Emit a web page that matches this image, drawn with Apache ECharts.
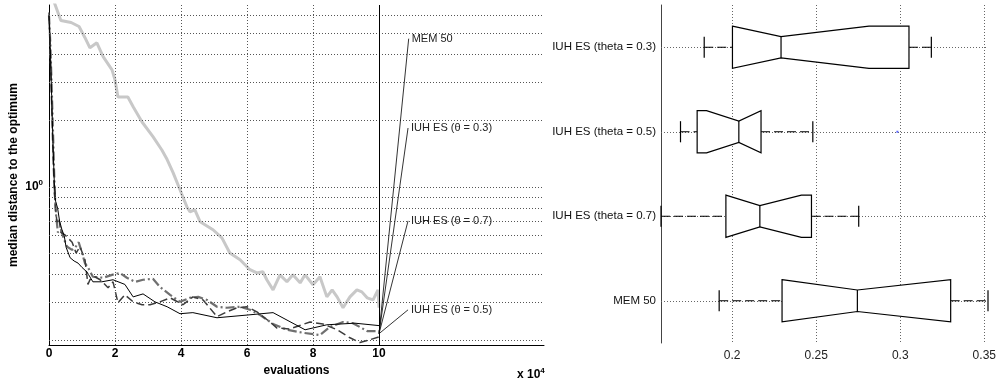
<!DOCTYPE html>
<html><head><meta charset="utf-8">
<script src="https://cdn.jsdelivr.net/npm/echarts@6/dist/echarts.min.js"></script>
<style>html,body{margin:0;padding:0;background:#fff}#c{width:1002px;height:385px}</style>
</head><body><div id="c"></div>
<script>
// ---------- data (left: evaluations x 10^4 vs median distance) ----------
const memX = [0, 0.36, 0.67, 0.91, 1.09, 1.24, 1.45, 1.64, 1.91, 2.0, 2.09, 2.39, 2.55, 2.82, 3.15, 3.42, 3.58, 3.76, 3.97, 4.18, 4.27, 4.42, 4.58, 4.97, 5.24, 5.48, 5.79, 6.09, 6.3, 6.48, 6.6, 6.79, 7.0, 7.21, 7.39, 7.61, 7.76, 8.0, 8.21, 8.42, 8.58, 8.73, 8.91, 9.12, 9.33, 9.48, 9.64, 9.82, 9.97, 10];
const memY = [8.0, 5.70, 5.58, 5.35, 4.76, 4.28, 4.51, 3.90, 3.40, 3.06, 2.56, 2.56, 2.31, 1.97, 1.69, 1.47, 1.33, 1.16, 0.97, 0.81, 0.77, 0.786, 0.693, 0.638, 0.586, 0.50, 0.466, 0.42, 0.406, 0.411, 0.378, 0.34, 0.398, 0.37, 0.398, 0.366, 0.398, 0.359, 0.39, 0.316, 0.34, 0.316, 0.282, 0.316, 0.34, 0.333, 0.313, 0.306, 0.34, 0.282];

const t03X = [0, 0.04, 0.08, 0.12, 0.16, 0.2, 0.26, 0.32, 0.39, 0.46, 0.52, 0.64, 0.76, 0.88, 1.0, 1.15, 1.33, 1.6, 1.94, 2.3, 2.55, 2.85, 3.21, 3.58, 3.97, 4.36, 5.09, 6.09, 6.79, 7.76, 8.42, 9.27, 10];
const t03Y = [6.0, 4.2, 2.6, 1.6, 1.05, 0.86, 0.8, 0.7, 0.64, 0.6, 0.53, 0.476, 0.46, 0.45, 0.43, 0.41, 0.37, 0.37, 0.378, 0.36, 0.316, 0.326, 0.30, 0.285, 0.265, 0.268, 0.254, 0.262, 0.268, 0.224, 0.236, 0.24, 0.234];

const t07X = [0, 0.04, 0.08, 0.12, 0.16, 0.2, 0.27, 0.36, 0.45, 0.55, 0.70, 0.79, 0.9, 1.0, 1.09, 1.18, 1.33, 1.64, 1.91, 2.15, 2.36, 2.61, 2.85, 3.15, 3.36, 3.67, 3.97, 4.27, 4.52, 4.79, 5.09, 5.39, 5.79, 6.09, 6.39, 6.79, 7.21, 7.7, 8.21, 8.52, 8.91, 9.21, 9.64, 10];
const t07Y = [6.0, 4.5, 2.9, 1.8, 1.1, 0.78, 0.62, 0.64, 0.58, 0.534, 0.517, 0.528, 0.56, 0.50, 0.45, 0.43, 0.39, 0.386, 0.398, 0.406, 0.386, 0.37, 0.378, 0.382, 0.351, 0.323, 0.30, 0.313, 0.316, 0.306, 0.285, 0.282, 0.285, 0.276, 0.262, 0.238, 0.224, 0.217, 0.212, 0.231, 0.243, 0.24, 0.221, 0.221];

const t05X = [0, 0.04, 0.08, 0.12, 0.16, 0.2, 0.24, 0.3, 0.36, 0.48, 0.6, 0.70, 0.82, 0.94, 1.09, 1.18, 1.24, 1.39, 1.55, 1.79, 1.94, 2.09, 2.3, 2.55, 2.82, 3.06, 3.36, 3.67, 4.06, 4.36, 4.67, 5.09, 5.39, 5.70, 6.0, 6.3, 6.70, 6.91, 7.3, 7.91, 8.3, 8.73, 9.12, 9.42, 9.73, 10];
const t05Y = [6.2, 4.0, 2.4, 1.4, 0.95, 0.8, 0.69, 0.72, 0.62, 0.605, 0.58, 0.56, 0.50, 0.534, 0.466, 0.36, 0.378, 0.39, 0.378, 0.348, 0.37, 0.297, 0.323, 0.30, 0.291, 0.291, 0.30, 0.313, 0.291, 0.316, 0.306, 0.257, 0.27, 0.282, 0.285, 0.27, 0.243, 0.228, 0.226, 0.243, 0.238, 0.224, 0.206, 0.196, 0.202, 0.208];

const xTicksLeft = [0, 2, 4, 6, 8, 10];
const yGridLeft = [0.2, 0.3, 0.4, 0.5, 0.6, 0.7, 0.8, 0.9, 1, 2, 3, 4, 5, 6];

// ---------- data (right: notched boxplots) ----------
const boxCats = ['IUH ES (theta = 0.3)', 'IUH ES (theta = 0.5)', 'IUH ES (theta = 0.7)', 'MEM 50'];
const boxMin    = [0.1834, 0.1693, 0.1577, 0.1923];
const boxQ1     = [0.2002, 0.1792, 0.1963, 0.2297];
const notchLow  = [0.2002, 0.1848, 0.1963, 0.2297];
const boxMedian = [0.2291, 0.2040, 0.2165, 0.2745];
const notchHigh = [0.2814, 0.2172, 0.2412, 0.3300];
const boxQ3     = [0.3052, 0.2172, 0.2472, 0.3300];
const boxMax    = [0.3185, 0.2480, 0.2753, 0.3522];
const outlierVal = [0.2983];
const outlierCat = [1];
const xTicksRight = [0.2, 0.25, 0.3, 0.35];

// ---------- layout ----------
const FONT = "'Liberation Sans', Arial, sans-serif";
const annotFrom = [10, 0.215];
const annot = {
  mem: {label: 'MEM 50', at: [10.9, 4.71]},
  t03: {label: 'IUH ES (\u03b8 = 0.3)', at: [10.88, 1.85]},
  t07: {label: 'IUH ES (\u03b8 = 0.7)', at: [10.88, 0.70]},
  t05: {label: 'IUH ES (\u03b8 = 0.5)', at: [10.88, 0.276]}
};

const zip = (xs, ys) => xs.map((x, i) => [x, ys[i]]);

function annotMarks(a) {
  return {
    markLine: {
      silent: true, symbol: ['none', 'none'], label: {show: false}, animation: false,
      lineStyle: {color: '#000', width: 0.8, type: 'solid'},
      data: [[{coord: annotFrom}, {coord: a.at}]]
    },
    markPoint: {
      silent: true, symbol: 'circle', symbolSize: 0, animation: false,
      data: [{coord: a.at, label: {show: true, position: 'right', distance: 3,
        formatter: a.label, color: '#222', fontSize: 11, fontFamily: FONT}}]
    }
  };
}

function lineSeries(name, xs, ys, style, a) {
  return Object.assign({
    type: 'line', name, xAxisIndex: 0, yAxisIndex: 0,
    data: zip(xs, ys), showSymbol: false, symbol: 'none',
    lineStyle: style, z: 3
  }, annotMarks(a));
}

function renderBox(params, api) {
  const cat = api.value(0);
  const mn = api.value(1), q1 = api.value(2), nlo = api.value(3), md = api.value(4),
        nhi = api.value(5), q3 = api.value(6), mx = api.value(7);
  const cy = api.coord([md, cat])[1];
  const px = v => api.coord([v, cat])[0];
  const band = api.size([0, 1])[1];
  const h = band * 0.25, n = band * 0.127, cap = band * 0.125;
  const pts = [[px(q1), cy - h], [px(nlo), cy - h], [px(md), cy - n], [px(nhi), cy - h], [px(q3), cy - h],
               [px(q3), cy + h], [px(nhi), cy + h], [px(md), cy + n], [px(nlo), cy + h], [px(q1), cy + h]];
  const st = {stroke: '#000', lineWidth: 1.2, fill: null};
  const dash = {stroke: '#000', lineWidth: 1.2, lineDash: [9, 4]};
  return {type: 'group', children: [
    {type: 'line', shape: {x1: px(mn), y1: cy, x2: px(q1), y2: cy}, style: dash},
    {type: 'line', shape: {x1: px(q3), y1: cy, x2: px(mx), y2: cy}, style: dash},
    {type: 'line', shape: {x1: px(mn), y1: cy - cap, x2: px(mn), y2: cy + cap}, style: st},
    {type: 'line', shape: {x1: px(mx), y1: cy - cap, x2: px(mx), y2: cy + cap}, style: st},
    {type: 'polygon', shape: {points: pts}, style: {stroke: '#000', lineWidth: 1.2, fill: '#fff'}},
    {type: 'line', shape: {x1: px(md), y1: cy - n, x2: px(md), y2: cy + n}, style: st}
  ]};
}

const boxData = boxCats.map((c, i) => [i, boxMin[i], boxQ1[i], notchLow[i], boxMedian[i], notchHigh[i], boxQ3[i], boxMax[i]]);

const dotLeft = {color: '#555', width: 1, type: [1, 2]};
const dotRight = {color: '#666', width: 1, type: [1, 2]};

const option = {
  animation: false,
  backgroundColor: '#fff',
  grid: [
    {left: 49, top: 5, width: 495, height: 340},
    {left: 661, top: 5, width: 327, height: 338}
  ],
  xAxis: [
    {type: 'value', gridIndex: 0, min: 0, max: 15,
     name: 'evaluations', nameLocation: 'middle', nameGap: 16,
     nameTextStyle: {fontWeight: 'bold', fontSize: 12, color: '#000', fontFamily: FONT},
     axisLine: {lineStyle: {color: '#000', width: 1}},
     axisTick: {show: false}, splitLine: {show: false},
     axisLabel: {customValues: xTicksLeft, fontWeight: 'bold', fontSize: 12, color: '#000', fontFamily: FONT, margin: 3,
       formatter: v => (v <= 10 ? String(v) : '')}},
    {type: 'value', gridIndex: 1, min: 0.1577, max: 0.3522,
     axisLine: {lineStyle: {color: '#444', width: 1}},
     axisTick: {show: false}, splitLine: {show: false},
     axisLabel: {customValues: xTicksRight, fontSize: 12, color: '#222', fontFamily: FONT, margin: 7}}
  ],
  yAxis: [
    {type: 'log', logBase: 10, gridIndex: 0, min: 0.191, max: 6.7,
     name: 'median distance to the optimum', nameLocation: 'middle', nameGap: 29, nameRotate: 90,
     nameTextStyle: {fontWeight: 'bold', fontSize: 12, color: '#000', fontFamily: FONT},
     axisLine: {show: true, lineStyle: {color: '#000', width: 1}},
     axisTick: {show: false}, splitLine: {show: false},
     axisLabel: {showMinLabel: false, showMaxLabel: false, margin: 6,
       formatter: v => (Math.abs(v - 1) < 1e-6 ? '{b|10}{s|0}' : ''),
       rich: {b: {fontWeight: 'bold', fontSize: 12, color: '#000', fontFamily: FONT},
              s: {fontWeight: 'bold', fontSize: 8, color: '#000', fontFamily: FONT, padding: [0, 0, 7, 0]}}}},
    {type: 'category', gridIndex: 1, inverse: true, data: boxCats,
     axisLine: {lineStyle: {color: '#444', width: 1}},
     axisTick: {show: false}, splitLine: {show: false},
     axisLabel: {fontSize: 11.5, color: '#111', fontFamily: FONT, margin: 5}}
  ],
  graphic: [
    {type: 'text', left: 517, top: 367, style: {
      text: '{a|x 10}{s|4}',
      rich: {a: {fontWeight: 'bold', fontSize: 12, fill: '#000', fontFamily: FONT},
             s: {fontWeight: 'bold', fontSize: 8, fill: '#000', fontFamily: FONT, padding: [0, 0, 8, 0]}}}}
  ],
  series: [
    {type: 'line', xAxisIndex: 0, yAxisIndex: 0, data: [], z: 1,
     markLine: {silent: true, symbol: ['none', 'none'], label: {show: false}, animation: false,
       data: yGridLeft.map(v => ({yAxis: v, lineStyle: dotLeft}))
         .concat([2, 4, 6, 8].map(v => ({xAxis: v, lineStyle: dotLeft})))
         .concat([{xAxis: 10, lineStyle: {color: '#000', width: 1, type: 'solid'}}])}},
    lineSeries('MEM 50', memX, memY, {color: '#c8c8c8', width: 3, type: 'solid'}, annot.mem),
    lineSeries('IUH ES (theta = 0.7)', t07X, t07Y, {color: '#707070', width: 2.2, type: [9, 3, 2, 3]}, annot.t07),
    lineSeries('IUH ES (theta = 0.5)', t05X, t05Y, {color: '#3c3c3c', width: 1.5, type: [8, 4]}, annot.t05),
    lineSeries('IUH ES (theta = 0.3)', t03X, t03Y, {color: '#000', width: 1, type: 'solid'}, annot.t03),
    {type: 'custom', xAxisIndex: 1, yAxisIndex: 1, renderItem: renderBox,
     encode: {x: [1, 2, 3, 4, 5, 6, 7], y: 0}, data: boxData, z: 3},
    {type: 'scatter', xAxisIndex: 1, yAxisIndex: 1, symbol: 'rect', symbolSize: 2,
     itemStyle: {color: '#3344ff'}, data: outlierVal.map((v, i) => [v, outlierCat[i]]), z: 4,
     markLine: {silent: true, symbol: ['none', 'none'], label: {show: false}, animation: false, z: 1,
       data: boxCats.map(c => ({yAxis: c, lineStyle: dotRight}))
         .concat(xTicksRight.map(v => ({xAxis: v, lineStyle: dotRight})))}}
  ]
};

const chart = echarts.init(document.getElementById('c'), null, {renderer: 'canvas'});
chart.setOption(option);
</script>
</body></html>
